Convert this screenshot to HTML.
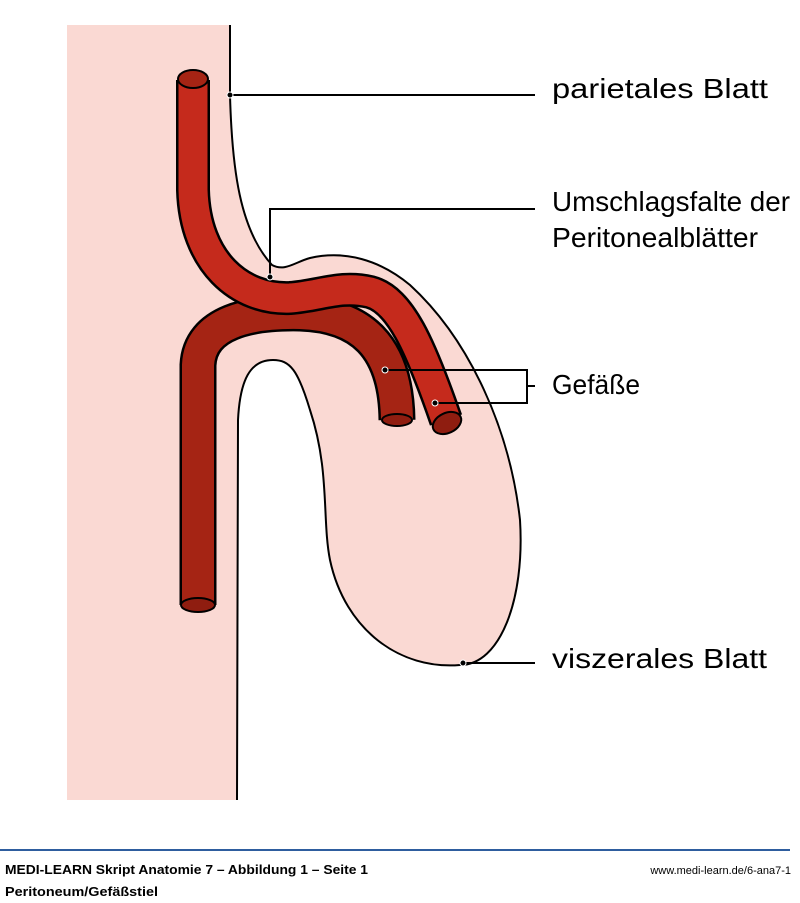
<!DOCTYPE html>
<html><head><meta charset="utf-8"><style>
html,body{margin:0;padding:0;background:#fff;}
svg{display:block;}
</style></head><body>
<svg width="800" height="903" viewBox="0 0 800 903" xmlns="http://www.w3.org/2000/svg">
<path d="M67,25 L230,25 L230,95 C232,170 240,230 272,265 C285,272 295,262 310,258 C345,250 380,260 410,285 C470,340 510,430 520,520 C525,600 500,665 460,665 C400,670 345,630 330,560 C322,520 330,470 310,410 C298,370 290,360 273,360 C250,360 240,380 238,420 L237,800 L67,800 Z" fill="#fad9d3"/>
<path d="M230,25 L230,95 C232,170 240,230 272,265 C285,272 295,262 310,258 C345,250 380,260 410,285 C470,340 510,430 520,520 C525,600 500,665 460,665 C400,670 345,630 330,560 C322,520 330,470 310,410 C298,370 290,360 273,360 C250,360 240,380 238,420 L237,800" fill="none" stroke="#000" stroke-width="2"/>
<path d="M198,605 L198,365 C200,322 250,312 300,313 C360,315 396,345 397,420" fill="none" stroke="#000" stroke-width="37"/>
<path d="M198,605 L198,365 C200,322 250,312 300,313 C360,315 396,345 397,420" fill="none" stroke="#a52414" stroke-width="32"/>
<ellipse cx="198" cy="605" rx="17" ry="7" fill="#8f1d10" stroke="#000" stroke-width="2"/>
<ellipse cx="397" cy="420" rx="15" ry="6" fill="#8f1d10" stroke="#000" stroke-width="2"/>
<path d="M193,80 L193,190 C195,262 240,300 290,298 C320,296 340,285 370,292 C400,300 420,345 446,420" fill="none" stroke="#000" stroke-width="34"/>
<path d="M193,80 L193,190 C195,262 240,300 290,298 C320,296 340,285 370,292 C400,300 420,345 446,420" fill="none" stroke="#c52a1c" stroke-width="29"/>
<ellipse cx="193" cy="79" rx="15" ry="9" fill="#a52414" stroke="#000" stroke-width="2"/>
<ellipse cx="447" cy="423" rx="15" ry="10" transform="rotate(-25 447 423)" fill="#8f1d10" stroke="#000" stroke-width="2"/>
<g stroke="#000" stroke-width="2" fill="none">
<path d="M230,95 L535,95"/>
<path d="M270,277 L270,209 L535,209"/>
<path d="M385,370 L527,370 L527,403 L435,403 M527,386 L535,386"/>
<path d="M463,663 L535,663"/>
</g>
<g fill="#000" stroke="#fff" stroke-width="1">
<circle cx="230" cy="95" r="3"/><circle cx="270" cy="277" r="3"/><circle cx="385" cy="370" r="3"/><circle cx="435" cy="403" r="3"/><circle cx="463" cy="663" r="3"/>
</g>
<g font-family="Liberation Sans, sans-serif" font-size="28" fill="#000">
<text x="552" y="98" textLength="216" lengthAdjust="spacingAndGlyphs">parietales Blatt</text>
<text x="552" y="211" textLength="238" lengthAdjust="spacingAndGlyphs">Umschlagsfalte der</text>
<text x="552" y="247" textLength="206" lengthAdjust="spacingAndGlyphs">Peritonealblätter</text>
<text x="552" y="394" textLength="88" lengthAdjust="spacingAndGlyphs">Gefäße</text>
<text x="552" y="668" textLength="215" lengthAdjust="spacingAndGlyphs">viszerales Blatt</text>
</g>
<rect x="0" y="849" width="790" height="2" fill="#2e5d9e"/>
<g font-family="Liberation Sans, sans-serif" fill="#000">
<text x="5" y="874" font-size="13" font-weight="bold" textLength="363" lengthAdjust="spacingAndGlyphs">MEDI-LEARN Skript Anatomie 7 – Abbildung 1 – Seite 1</text>
<text x="5" y="896" font-size="13" font-weight="bold" textLength="153" lengthAdjust="spacingAndGlyphs">Peritoneum/Gefäßstiel</text>
<text x="791" y="874" font-size="11" text-anchor="end">www.medi-learn.de/6-ana7-1</text>
</g>
</svg>
</body></html>
